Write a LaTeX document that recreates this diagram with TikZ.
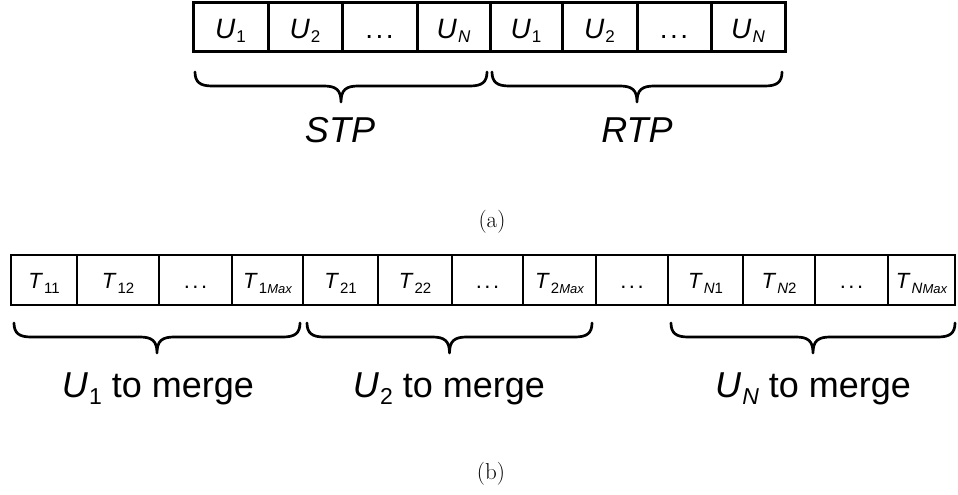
\documentclass[tikz,border=0pt]{standalone}
\usepackage{fontspec}
\newfontfamily\arial{Liberation Sans}
\tikzset{
  topcell/.style={draw=black, line width=3pt, fill=white, inner sep=0pt, minimum height=49pt,
    text height=24pt, text depth=3pt, font=\arial\fontsize{28}{30}\selectfont},
  botcell/.style={draw=black, line width=2.6pt, fill=white, inner sep=0pt, minimum height=50pt,
    text height=20pt, text depth=4pt, font=\arial\fontsize{22}{24}\selectfont},
  bracestyle/.style={draw=black, line width=2.7pt, line cap=round, line join=round},
  lbl/.style={anchor=base, inner sep=0pt, font=\arial\fontsize{36}{38}\selectfont},
  captext/.style={anchor=base, inner sep=0pt, font=\fontsize{23}{25}\selectfont}
}
\newcommand\Us[1]{\textit{U}\hspace{1pt}\raisebox{-5pt}{\fontsize{17}{18}\selectfont #1}}
\newcommand\Ts[1]{\textit{T}\hspace{1pt}\raisebox{-5pt}{\fontsize{15}{16}\selectfont #1}}
\newcommand\Mx{{\fontsize{13}{14}\selectfont\itshape Max}}
\newcommand\dotsx{.\hspace{2.5pt}.\hspace{2.5pt}.}
\newcommand\mybrace[3]{% x1 x2 ytop
  \pgfmathsetmacro\xc{(#1+#2)/2}%
  \pgfmathsetmacro\ym{#3+14}%
  \pgfmathsetmacro\yt{#3+30}%
  \draw[bracestyle] (#1,#3) .. controls (#1,{#3+10}) and ({#1+5},\ym) .. ({#1+17},\ym)
    -- ({\xc-17},\ym) .. controls ({\xc-5},\ym) and (\xc,{\ym+4}) .. (\xc,\yt)
    .. controls (\xc,{\ym+4}) and ({\xc+5},\ym) .. ({\xc+17},\ym)
    -- ({#2-17},\ym) .. controls ({#2-5},\ym) and (#2,{#3+10}) .. (#2,#3);}
\begin{document}
\begin{tikzpicture}[x=1pt,y=-1pt]
\useasboundingbox (0,0) rectangle (958,495);
% ---- (a) top row
\node[topcell, minimum width=75pt] (a1) at (230.5,27.5) {\Us{1}};
\node[topcell, minimum width=74pt] (a2) at (305,27.5) {\Us{2}};
\node[topcell, minimum width=75pt] (a3) at (379.5,27.5) {\dotsx};
\node[topcell, minimum width=73pt] (a4) at (453.5,27.5) {\Us{\itshape N}};
\node[topcell, minimum width=72pt] (a5) at (526,27.5) {\Us{1}};
\node[topcell, minimum width=75pt] (a6) at (599.5,27.5) {\Us{2}};
\node[topcell, minimum width=74pt] (a7) at (674,27.5) {\dotsx};
\node[topcell, minimum width=74pt] (a8) at (748,27.5) {\Us{\itshape N}};
\mybrace{195}{487}{72}
\mybrace{492}{782}{72}
\node[lbl] (stp) at (340,142) {\textit{STP}};
\node[lbl] (rtp) at (637,142) {\textit{RTP}};
\node[captext] (capa) at (492,227) {(a)};
% ---- (b) bottom row
\node[botcell, minimum width=66pt] (b1) at (44,280) {\Ts{11}};
\node[botcell, minimum width=82pt] (b2) at (118,280) {\Ts{12}};
\node[botcell, minimum width=73pt] (b3) at (195.5,280) {\dotsx};
\node[botcell, minimum width=71pt] (b4) at (267.5,280) {\Ts{1\Mx}};
\node[botcell, minimum width=75pt] (b5) at (340.5,280) {\Ts{21}};
\node[botcell, minimum width=74pt] (b6) at (415,280) {\Ts{22}};
\node[botcell, minimum width=71pt] (b7) at (487.5,280) {\dotsx};
\node[botcell, minimum width=73pt] (b8) at (559.5,280) {\Ts{2\Mx}};
\node[botcell, minimum width=72pt] (b9) at (632,280) {\dotsx};
\node[botcell, minimum width=75pt] (b10) at (705.5,280) {\Ts{\itshape N\upshape 1}};
\node[botcell, minimum width=72pt] (b11) at (779,280) {\Ts{\itshape N\upshape 2}};
\node[botcell, minimum width=73pt] (b12) at (851.5,280) {\dotsx};
\node[botcell, minimum width=67pt] (b13) at (921.5,280) {\Ts{\itshape N\Mx}};
\mybrace{14}{300}{323}
\mybrace{307}{592}{323}
\mybrace{671}{955}{323}
\node[lbl] (m1) at (158,397) {\textit{U}\hspace{1pt}\raisebox{-7pt}{\fontsize{23}{24}\selectfont 1} to merge};
\node[lbl] (m2) at (449,397) {\textit{U}\hspace{1pt}\raisebox{-7pt}{\fontsize{23}{24}\selectfont 2} to merge};
\node[lbl] (m3) at (813,397) {\textit{U}\hspace{1pt}\raisebox{-7pt}{\fontsize{23}{24}\selectfont\itshape N} to merge};
\node[captext] (capb) at (491,479) {(b)};
\end{tikzpicture}
\end{document}
